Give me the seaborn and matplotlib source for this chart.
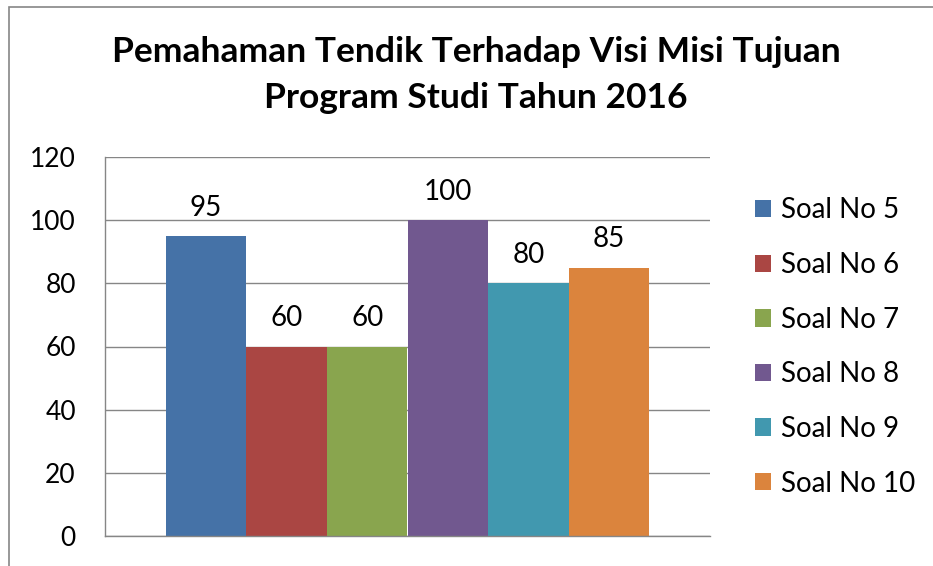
import matplotlib
matplotlib.use("Agg")
import matplotlib.pyplot as plt
import seaborn as sns
import pandas as pd
from matplotlib.patches import Rectangle

# data
kategori = ["2016"]
soal = ["Soal No 5", "Soal No 6", "Soal No 7", "Soal No 8", "Soal No 9", "Soal No 10"]
nilai = [95, 60, 60, 100, 80, 85]
warna = ["#4572A7", "#AA4643", "#89A54E", "#71588F", "#4198AF", "#DB843D"]
judul = "Pemahaman Tendik Terhadap Visi Misi Tujuan\nProgram Studi Tahun 2016"
y_ticks = [0, 20, 40, 60, 80, 100, 120]

df = pd.DataFrame({
    "kategori": kategori * len(soal),
    "soal": soal,
    "nilai": nilai,
})

sns.set_style("white")
plt.rcParams["font.family"] = ["Lato", "DejaVu Sans"]
plt.rcParams["text.color"] = "#000000"

W, H = 933, 566
fig = plt.figure(figsize=(W / 100, H / 100), dpi=100)

# outer chart border (Excel style), runs off the right/bottom edge
fig.patches.append(Rectangle((9 / W, -0.1), 1.2, 1 - 7 / H + 0.1,
                             transform=fig.transFigure, fill=False,
                             edgecolor="#868686", linewidth=1.2))

ax = fig.add_axes([105 / W, 30 / H, 605 / W, 379 / H])
sns.barplot(data=df, x="kategori", y="nilai", hue="soal", hue_order=soal,
            palette=warna, saturation=1, width=0.8, linewidth=0, ax=ax)

ax.set_ylim(0, 120)
ax.set_yticks(y_ticks)
ax.set_xlim(-0.5, 0.5)
ax.set_xticks([])
ax.set_xlabel("")
ax.set_ylabel("")
ax.yaxis.grid(True, color="#868686", linewidth=1)
ax.set_axisbelow(True)
for s in ["top", "right"]:
    ax.spines[s].set_visible(False)
for s in ["left", "bottom"]:
    ax.spines[s].set_color("#868686")
    ax.spines[s].set_linewidth(1)
ax.tick_params(axis="y", length=0, pad=21, labelsize=19, labelcolor="black")

for c in ax.containers:
    ax.bar_label(c, padding=11, fontsize=20, color="black")

ax.legend(loc="center left", bbox_to_anchor=(755 / W, 1 - 347 / H),
          bbox_transform=fig.transFigure, frameon=False, fontsize=20,
          handlelength=0.58, handleheight=0.58, handletextpad=0.36,
          labelspacing=1.03, borderpad=0, borderaxespad=0)

fig.text(476 / W, 1 - 75 / H, judul, ha="center", va="center",
         fontsize=25.5, fontweight="bold", linespacing=1.52)

fig.savefig("out.png", dpi=100)
